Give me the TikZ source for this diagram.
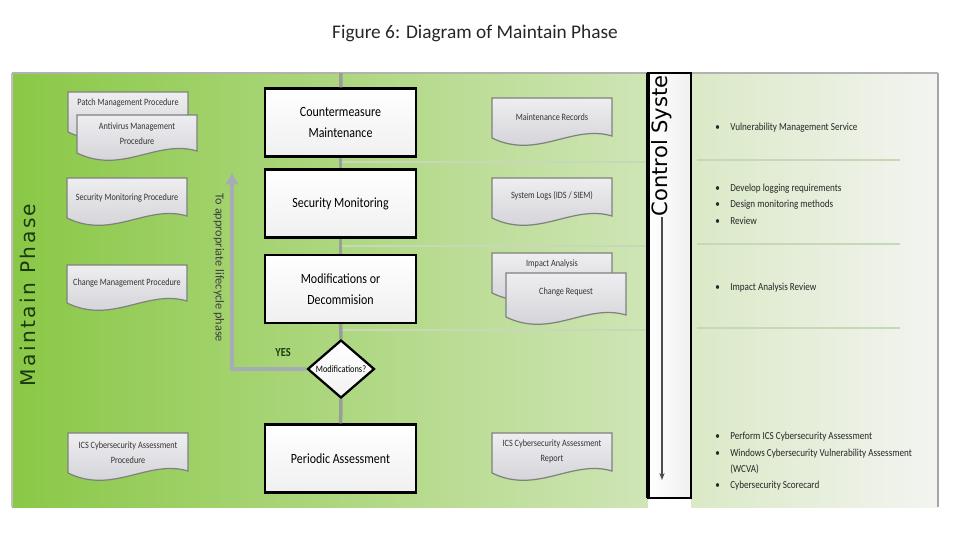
\documentclass[tikz,border=0pt]{standalone}
\usepackage{fontspec}
\setmainfont{Carlito}
\newfontfamily\condfont[FakeStretch=0.85]{Carlito}
\newfontfamily\phasefont[LetterSpace=12]{DejaVu Sans}
\newfontfamily\ctrlfont{DejaVu Sans}
\usetikzlibrary{shapes.geometric,arrows.meta}

\definecolor{greenL}{RGB}{138,200,70}
\definecolor{greenM}{RGB}{165,212,115}
\definecolor{greenR}{RGB}{207,229,182}
\definecolor{paleL}{RGB}{218,233,198}
\definecolor{paleR}{RGB}{243,244,241}
\definecolor{docT}{RGB}{238,238,241}
\definecolor{docB}{RGB}{205,205,210}
\definecolor{docE}{RGB}{125,130,125}
\definecolor{flowgray}{RGB}{150,160,150}
\definecolor{backgray}{RGB}{165,172,182}
\definecolor{sepcol}{RGB}{198,216,184}
\definecolor{phasegreen}{RGB}{28,58,18}

\tikzset{
  procbox/.style={draw=black, line width=1.3pt, top color=white, bottom color=gray!12,
    minimum width=3.02cm, minimum height=1.36cm, align=center,
    font=\condfont\fontsize{8}{12}\selectfont},
  decision/.style={diamond, draw=black, line width=1.3pt, top color=white, bottom color=gray!10,
    minimum width=1.34cm, minimum height=1.16cm, inner sep=0pt, aspect=1.15,
    font=\condfont\fontsize{5.6}{7}\selectfont},
  docnode/.style={inner sep=0pt, align=center, text=black!80,
    font=\condfont\fontsize{5.5}{8.6}\selectfont},
  docfill/.style={top color=docT, bottom color=docB, draw=docE, line width=0.7pt},
  flow/.style={draw=flowgray, line width=2pt},
  back/.style={draw=backgray, line width=2.6pt, -{Latex[length=7pt,width=8pt]}},
  sepline/.style={draw=sepcol, line width=1pt},
  bullets/.style={anchor=west, inner sep=0pt, align=left, text=black!85,
    font=\condfont\fontsize{6.1}{9.36}\selectfont},
  phaselabel/.style={rotate=90, text=phasegreen, font=\phasefont\fontsize{11.5}{13}\selectfont},
  ctrllabel/.style={rotate=90, anchor=east, inner sep=0pt, font=\ctrlfont\fontsize{12}{14}\selectfont},
  ctrlarrow/.style={draw=black!70, line width=0.6pt, -{Stealth[length=4pt,width=3pt]}},
  yeslabel/.style={text=phasegreen, font=\condfont\bfseries\fontsize{7}{8}\selectfont},
  lifelabel/.style={rotate=-90, text=black!75, font=\fontsize{7}{8}\selectfont}
}

\begin{document}
\begin{tikzpicture}[x=0.02cm, y=-0.02cm]
\useasboundingbox (0,0) rectangle (960,555);

% document shape: name, centre x, top, height, text offset, text
\def\docbox#1#2#3#4#5#6{%
  \shade[docfill] (#2-60,#3) -- (#2+60,#3) -- (#2+60,#3+#4-2)
    .. controls (#2+20,#3+#4-14) and (#2-15,#3+#4+22) .. (#2-60,#3+#4) -- cycle;
  \node[docnode] (#1) at (#2,#3+#5) {#6};
}

% Title
\node[font=\fontsize{11}{13}\selectfont, text=black!85] (title) at (475,33) {Figure 6: Diagram of Maintain Phase};

% Background panels
\shade[left color=greenL, middle color=greenM, right color=greenR] (12,73) rectangle (648,507);
\shade[left color=paleL, right color=paleR] (691,73) rectangle (938,507);
\draw[gray!50, line width=0.8pt] (12,73) -- (12,507);
\draw[gray!70, line width=0.8pt] (938,73) -- (938,507);
\draw[gray!60, line width=1.5pt] (12,73) -- (938,73);

% Row separators
\foreach \y in {162,246,330} \draw[sepline] (341,\y) -- (648,\y);
\foreach \y in {160,244,328} \draw[sepline] (697,\y) -- (900,\y);

% Control system column
\shade[left color=white, right color=gray!12, draw=black, line width=1.2pt] (648,73) rectangle (691,498);
\draw[black, line width=1.8pt] (648,73) -- (648,498);

\node[phaselabel] (phase) at (28,295) {Maintain Phase};

% Procedures (left) and records (right)
\docbox{patch}{128}{92}{40}{11}{Patch Management Procedure}
\docbox{antivirus}{137}{115}{38}{19}{Antivirus Management\\Procedure}
\docbox{secproc}{127}{178}{40}{20}{Security Monitoring Procedure}
\docbox{chgproc}{127}{265}{38}{18}{Change Management Procedure}
\docbox{icsproc}{128}{433}{40}{20}{ICS Cybersecurity Assessment\\Procedure}
\docbox{records}{552}{98}{40}{19}{Maintenance Records}
\docbox{syslogs}{552}{178}{40}{18}{System Logs (IDS / SIEM)}
\docbox{impact}{552}{253}{40}{11}{Impact Analysis}
\docbox{chgreq}{566}{273}{44}{19}{Change Request}
\docbox{icsrep}{552}{433}{40}{18}{ICS Cybersecurity Assessment\\Report}

% Phase steps
\node[procbox] (cm) at (340.5,122.5) {Countermeasure\\Maintenance};
\node[procbox] (sm) at (340.5,203.5) {Security Monitoring};
\node[procbox] (md) at (340.5,289) {Modifications or\\Decommision};
\node[decision] (modq) at (341,369) {Modifications?};
\node[procbox] (pa) at (340.5,458.5) {Periodic Assessment};

\coordinate (flowtop) at (341,73);
\draw[flow] (flowtop) -- (cm);
\draw[flow] (cm) -- (sm);
\draw[flow] (sm) -- (md);
\draw[flow] (md) -- (modq);
\draw[flow] (modq) -- (pa);

\coordinate (lifetop) at (232,172);
\draw[back] (modq.west) -| (lifetop);
\node[yeslabel] (yes) at (283,353) {YES};
\node[lifelabel] (tolife) at (219,268) {To appropriate lifecycle phase};

% Control system arrow
\node[ctrllabel] (ctrl) at (662,75) {Control Syste};
\coordinate (ctrlend) at (662,480);
\draw[ctrlarrow] (ctrl.west) -- (ctrlend);

% Activities
\node[bullets] (vms) at (715,127) {\begin{tabular}{@{}l@{\hspace{0.21cm}}l@{}}
  \textbullet & Vulnerability Management Service\end{tabular}};
\node[bullets] (logging) at (715,204.5) {\begin{tabular}{@{}l@{\hspace{0.21cm}}l@{}}
  \textbullet & Develop logging requirements\\
  \textbullet & Design monitoring methods\\
  \textbullet & Review\end{tabular}};
\node[bullets] (iar) at (715,287) {\begin{tabular}{@{}l@{\hspace{0.21cm}}l@{}}
  \textbullet & Impact Analysis Review\end{tabular}};
\node[bullets] (assess) at (715,461) {\begin{tabular}{@{}l@{\hspace{0.21cm}}l@{}}
  \textbullet & Perform ICS Cybersecurity Assessment\\
  \textbullet & Windows Cybersecurity Vulnerability Assessment\\
   & (WCVA)\\
  \textbullet & Cybersecurity Scorecard\end{tabular}};
\end{tikzpicture}
\end{document}
